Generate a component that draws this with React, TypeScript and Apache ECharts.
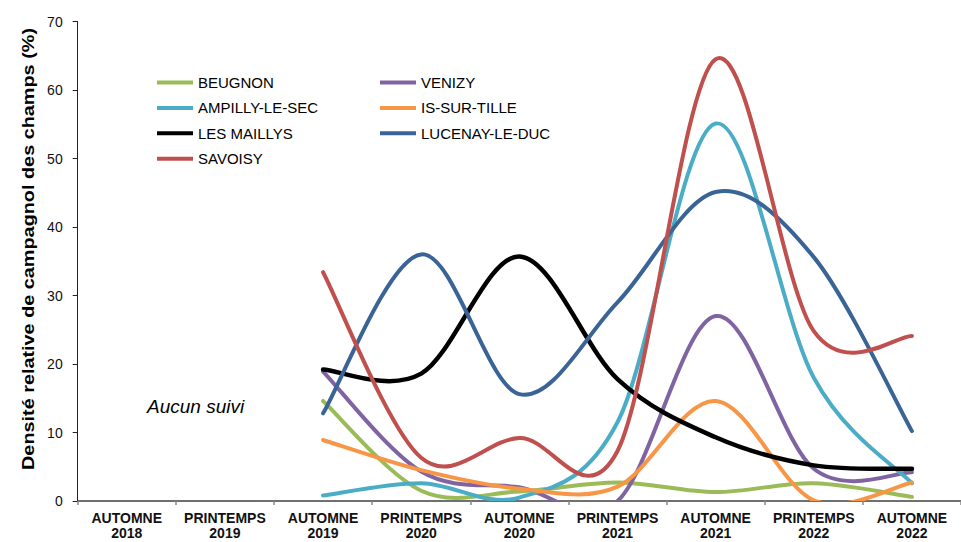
import React, { useEffect, useRef } from "react";
import * as echarts from "echarts";

const categories = [
  "AUTOMNE\n2018",
  "PRINTEMPS\n2019",
  "AUTOMNE\n2019",
  "PRINTEMPS\n2020",
  "AUTOMNE\n2020",
  "PRINTEMPS\n2021",
  "AUTOMNE\n2021",
  "PRINTEMPS\n2022",
  "AUTOMNE\n2022",
];

const beugnon = [null, null, 14.6, 1.5, 1.4, 2.7, 1.3, 2.6, 0.6];
const venizy = [null, null, 18.9, 4.3, 2.0, 0, 27.0, 4.7, 4.2];
const ampilly = [null, null, 0.8, 2.6, 0.5, 11.5, 55.1, 18.0, 2.6];
const isSurTille = [null, null, 8.9, 4.5, 1.8, 2.1, 14.6, 0.1, 2.7];
const lesMaillys = [null, null, 19.2, 18.6, 35.7, 17.8, 9.3, 5.2, 4.7];
const lucenay = [null, null, 12.8, 36.0, 15.6, 29.0, 45.1, 35.6, 10.2];
const savoisy = [null, null, 33.4, 6.3, 9.2, 7.3, 64.5, 24.8, 24.1];

const seriesDefs = [
  { name: "BEUGNON", data: beugnon, color: "#9BBB59", width: 4 },
  { name: "VENIZY", data: venizy, color: "#8064A2", width: 4 },
  { name: "AMPILLY-LE-SEC", data: ampilly, color: "#4BACC6", width: 4 },
  { name: "IS-SUR-TILLE", data: isSurTille, color: "#F79646", width: 4 },
  { name: "LES MAILLYS", data: lesMaillys, color: "#000000", width: 4.5 },
  { name: "LUCENAY-LE-DUC", data: lucenay, color: "#3A6496", width: 4 },
  { name: "SAVOISY", data: savoisy, color: "#C0504D", width: 4 },
];

const legendLeft = ["BEUGNON", "AMPILLY-LE-SEC", "LES MAILLYS", "SAVOISY"];
const legendRight = ["VENIZY", "IS-SUR-TILLE", "LUCENAY-LE-DUC"];

const yTitle = "Densité relative de campagnol des champs (%)";
const note = "Aucun suivi";

const FONT = "'Liberation Sans', Arial, sans-serif";

// Spreadsheet-style (Catmull-Rom) smoothing through pixel points given by the axes
function smoothPath(pts: number[][]): string {
  if (!pts.length) return "";
  let d = `M${pts[0][0]},${pts[0][1]}`;
  for (let i = 0; i < pts.length - 1; i++) {
    const p0 = pts[i - 1] || pts[i];
    const p1 = pts[i];
    const p2 = pts[i + 1];
    const p3 = pts[i + 2] || pts[i + 1];
    const c1x = p1[0] + (p2[0] - p0[0]) / 6;
    const c1y = p1[1] + (p2[1] - p0[1]) / 6;
    const c2x = p2[0] - (p3[0] - p1[0]) / 6;
    const c2y = p2[1] - (p3[1] - p1[1]) / 6;
    d += ` C${c1x},${c1y} ${c2x},${c2y} ${p2[0]},${p2[1]}`;
  }
  return d;
}

export default function App() {
  const ref = useRef<HTMLDivElement>(null);
  useEffect(() => {
    document.body.style.margin = "0";
    const chart = echarts.init(ref.current!, null, { renderer: "svg" });
    const legendCommon = {
      orient: "vertical" as const,
      padding: 0,
      top: 74,
      itemWidth: 36,
      itemHeight: 4,
      itemGap: 8.4,
      icon: "rect",
      textStyle: { fontFamily: FONT, fontSize: 15, color: "#000", lineHeight: 17 },
    };
    chart.setOption({
      animation: false,
      textStyle: { fontFamily: FONT },
      grid: { left: 77.7, right: -8, top: 21.5, bottom: 41, containLabel: false },
      legend: [
        { ...legendCommon, left: 157, data: legendLeft },
        { ...legendCommon, left: 380, data: legendRight },
      ],
      xAxis: {
        type: "category",
        data: categories,
        boundaryGap: true,
        axisLine: { lineStyle: { color: "#404040", width: 1.5 } },
        axisTick: { show: true, length: 4, lineStyle: { color: "#888", width: 1.5 } },
        axisLabel: {
          fontFamily: FONT,
          fontSize: 14,
          fontWeight: "bold",
          color: "#111",
          lineHeight: 15,
          margin: 9,
          interval: 0,
        },
        splitLine: { show: false },
      },
      yAxis: {
        type: "value",
        min: 0,
        max: 70,
        interval: 10,
        axisLine: { show: true, lineStyle: { color: "#222", width: 1 } },
        axisTick: { show: true, length: 5, inside: false, lineStyle: { color: "#222" } },
        axisLabel: { fontFamily: FONT, fontSize: 14, color: "#111", margin: 15 },
        splitLine: { show: false },
      },
      graphic: [
        {
          type: "text",
          x: 29,
          y: 249,
          rotation: Math.PI / 2,
          scaleX: 1.24,
          style: {
            text: yTitle,
            fontFamily: FONT,
            fontSize: 16,
            fontWeight: "bold",
            fill: "#000",
            textAlign: "center",
            textVerticalAlign: "middle",
          },
        },
        {
          type: "text",
          left: 147,
          top: 397,
          style: {
            text: note,
            fontFamily: FONT,
            fontSize: 19,
            fontStyle: "italic",
            fill: "#000",
          },
        },
      ],
      series: seriesDefs.map((s) => {
        const pairs: number[][] = [];
        s.data.forEach((v, i) => {
          if (v !== null && v !== undefined) pairs.push([i, v as number]);
        });
        return {
          name: s.name,
          type: "custom",
          data: pairs,
          encode: { x: 0, y: 1 },
          itemStyle: { color: s.color },
          renderItem: (params: any, api: any) => {
            if (params.dataIndex !== 0) return null;
            const pts = pairs.map((p) => api.coord(p));
            const cs = params.coordSys;
            return {
              type: "group",
              clipPath: {
                type: "rect",
                shape: { x: cs.x - 10, y: cs.y - 10, width: cs.width + 20, height: cs.height + 10 },
              },
              children: [
                {
                  type: "path",
                  shape: { pathData: smoothPath(pts) },
                  style: {
                    fill: "none",
                    stroke: s.color,
                    lineWidth: s.width,
                    lineCap: "round",
                    lineJoin: "round",
                  },
                },
              ],
            };
          },
        };
      }),
    });
    return () => chart.dispose();
  }, []);
  return <div ref={ref} style={{ width: 961, height: 542 }} />;
}
